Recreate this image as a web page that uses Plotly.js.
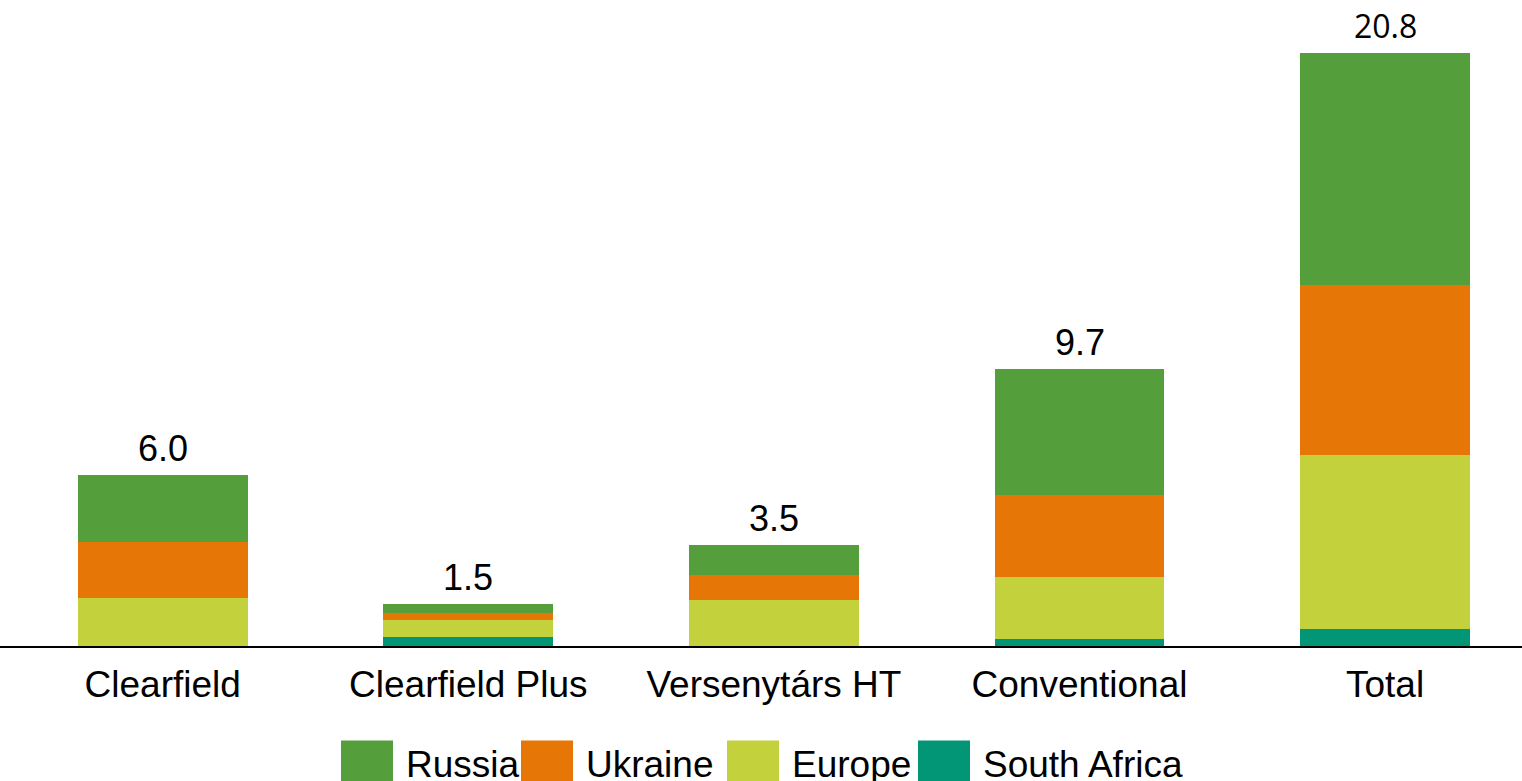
<!DOCTYPE html>
<html>
<head>
<meta charset="utf-8">
<script src="https://cdn.plot.ly/plotly-3.0.1.min.js"></script>
<style>html,body{margin:0;padding:0;background:#fff;}#chart{width:1522px;height:781px;}</style>
</head>
<body>
<div id="chart"></div>
<script>
// ---- data ----
const categories = ["Clearfield", "Clearfield Plus", "Versenytárs HT", "Conventional", "Total"];
const russia      = [2.36, 0.29, 1.02, 4.45, 8.12];
const ukraine     = [1.96, 0.25, 0.88, 2.88, 5.99];
const europe      = [1.70, 0.59, 1.63, 2.18, 6.08];
const southAfrica = [0.00, 0.33, 0.00, 0.23, 0.61];
const totalLabels = ["6.0", "1.5", "3.5", "9.7", "20.8"];
const seriesNames = ["Russia", "Ukraine", "Europe", "South Africa"];

// ---- styles ----
const colors = {
  "Russia": "#549f3b",
  "Ukraine": "#e67706",
  "Europe": "#c3d13c",
  "South Africa": "#029677"
};
const FONT = "Liberation Sans, Arial, sans-serif";
const W = 1522, H = 781;
const marginT = 20, marginB = 134.5;
const plotH = H - marginT - marginB;
const pxPerUnit = 28.51;

const seriesData = {"Russia": russia, "Ukraine": ukraine, "Europe": europe, "South Africa": southAfrica};
// stack from bottom: South Africa, Europe, Ukraine, Russia
const stackOrder = ["South Africa", "Europe", "Ukraine", "Russia"];
const traces = stackOrder.map(name => ({
  type: "bar",
  name: name,
  x: categories,
  y: seriesData[name],
  marker: {color: colors[name], line: {width: 0}},
  hoverinfo: "x+y+name",
  showlegend: false
}));

const totals = categories.map((c, i) => russia[i] + ukraine[i] + europe[i] + southAfrica[i]);

const annotations = categories.map((c, i) => ({
  x: c, y: totals[i], xref: "x", yref: "y",
  text: totalLabels[i], showarrow: false,
  yanchor: "bottom", yshift: 4,
  font: {family: i === categories.length - 1 ? "Open Sans, sans-serif" : FONT,
         size: i === categories.length - 1 ? 32 : 36, color: "#000"}
}));

// ---- manual legend with large square swatches ----
const shapes = [];
const legendFontSize = 37;
const sq = 52;
const legendTopPx = 741;
const legendSwatchX = [341, 521, 727, 918];
const pxToPaperX = px => px / W;
const pxToPaperY = py => (H - marginB - py) / plotH;
seriesNames.forEach((name, k) => {
  const x0 = legendSwatchX[k];
  shapes.push({
    type: "rect", xref: "paper", yref: "paper",
    x0: pxToPaperX(x0), x1: pxToPaperX(x0 + sq),
    y0: pxToPaperY(legendTopPx + sq), y1: pxToPaperY(legendTopPx),
    fillcolor: colors[name], line: {width: 0}
  });
  annotations.push({
    xref: "paper", yref: "paper",
    x: pxToPaperX(x0 + sq + 11), y: pxToPaperY(legendTopPx + sq / 2 - 2),
    xanchor: "left", yanchor: "middle",
    text: name, showarrow: false,
    font: {family: FONT, size: legendFontSize, color: "#000"}
  });
});

const layout = {
  width: W, height: H,
  margin: {l: 0, r: 0, t: marginT, b: marginB, pad: 0},
  paper_bgcolor: "#fff", plot_bgcolor: "#fff",
  barmode: "stack",
  bargap: 0.444,
  showlegend: false,
  font: {family: FONT, color: "#000"},
  xaxis: {
    type: "category",
    range: [-0.5325, 4.448],
    showline: true, linecolor: "#000", linewidth: 2,
    ticks: "", showgrid: false, zeroline: false,
    tickfont: {family: FONT, size: 37, color: "#000"},
    ticklabelstandoff: 5,
    fixedrange: true
  },
  yaxis: {
    range: [0, plotH / pxPerUnit],
    visible: false, showgrid: false, zeroline: false,
    fixedrange: true
  },
  shapes: shapes,
  annotations: annotations
};

Plotly.newPlot("chart", traces, layout, {displayModeBar: false, staticPlot: true});
</script>
</body>
</html>
